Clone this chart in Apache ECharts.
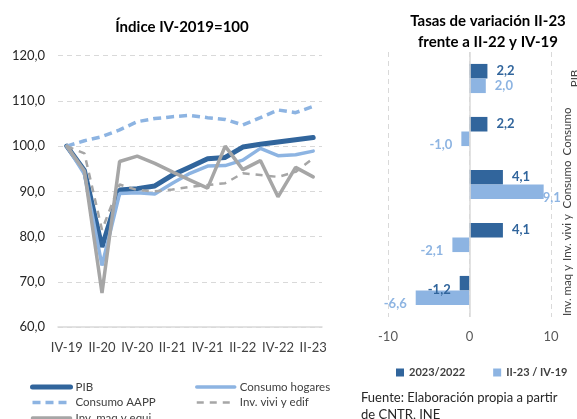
<!DOCTYPE html>
<html>
<head>
<meta charset="utf-8">
<script src="https://cdn.jsdelivr.net/npm/echarts@6/dist/echarts.min.js"></script>
<style>
  html, body { margin: 0; padding: 0; background: #fff; }
  #chart { width: 577px; height: 419px; }
</style>
</head>
<body>
<div id="chart"></div>
<script>
// indice IV-2019 = 100
const quarters = ['IV-19', 'I-20', 'II-20', 'III-20', 'IV-20', 'I-21', 'II-21', 'III-21', 'IV-21', 'I-22', 'II-22', 'III-22', 'IV-22', 'I-23', 'II-23']
const pib = [100, 94.6, 77.7, 90.3, 90.6, 91.2, 93.6, 95.4, 97.2, 97.5, 99.8, 100.4, 100.9, 101.4, 101.9]
const consumoHogares = [100, 93.8, 73.6, 89.5, 89.7, 89.4, 91.8, 94.0, 95.6, 95.7, 96.9, 99.5, 97.9, 98.1, 98.9]
const consumoAAPP = [100, 101.2, 102.1, 103.6, 105.4, 106.1, 106.5, 106.8, 106.3, 105.9, 104.7, 106.3, 108.0, 107.4, 108.8]
const invVivi = [100, 98.4, 81.5, 91.5, 90.3, 90.0, 90.4, 91.0, 91.4, 91.8, 94.0, 93.6, 93.2, 94.3, 97.3]
const invMaq = [100, 94.5, 67.5, 96.6, 97.8, 96.2, 94.3, 92.5, 90.7, 100.0, 94.8, 96.8, 88.8, 95.3, 93.2]

// tasas de variacion II-23
const componentes = ['PIB', 'Consumo hogares', 'Consumo AAPP', 'Inv. vivi y edif', 'Inv. maq y equi']
const tasa2322 = [2.2, 2.2, 4.1, 4.1, -1.2]
const tasa2319 = [2.0, -1.0, 9.1, -2.1, -6.6]

const DARK = '#31659C'
const LIGHT = '#8DB4E2'
const GRAY = '#A6A6A6'
const FONT = 'Lato'

const coma = v => v.toFixed(1).replace('.', ',')

const chart = echarts.init(document.getElementById('chart'))

const lineSerie = (name, data, color, width, type) => ({
  name: name,
  type: 'line',
  xAxisIndex: 0,
  yAxisIndex: 0,
  data: data,
  symbol: 'none',
  lineStyle: { color: color, width: width, type: type, cap: type === 'solid' ? 'round' : 'butt' },
  itemStyle: { color: color }
})

const lineLegend = (names, left) => ({
  data: names,
  orient: 'vertical',
  left: left,
  top: 376,
  height: 120,
  itemWidth: 38,
  itemHeight: 12,
  itemGap: 3.5,
  lineStyle: { width: 'inherit' },
  itemStyle: { opacity: 0 },
  textStyle: { fontFamily: FONT, fontSize: 11.5, color: '#404040' }
})

const barLabel = color => ({
  show: true,
  position: 'right',
  distance: 9,
  color: color,
  fontFamily: FONT,
  fontWeight: 'bold',
  fontSize: 13,
  formatter: p => coma(p.value)
})

// negativos a la izquierda de la barra; si se sale del area, pegado al final de la barra
const barLabelLayout = values => p => {
  if (values[p.dataIndex] < 0) return { x: p.rect.x - 9, align: 'right' }
  if (p.labelRect.x + p.labelRect.width > 551) return { x: p.rect.x + p.rect.width - 1 }
  return {}
}

chart.setOption({
  animation: false,
  textStyle: { fontFamily: FONT },

  title: [{
    text: 'Índice IV-2019=100',
    left: 177,
    top: 15,
    textAlign: 'center',
    textStyle: { fontFamily: FONT, fontSize: 15, fontWeight: 'bold', color: '#000' }
  }, {
    text: 'Tasas de variación II-23\nfrente a II-22 y IV-19',
    left: 483,
    top: 6,
    textAlign: 'center',
    textStyle: { fontFamily: FONT, fontSize: 15, fontWeight: 'bold', color: '#000', lineHeight: 21 }
  }, {
    text: 'Fuente: Elaboración propia a partir\nde CNTR, INE',
    left: 356,
    top: 384,
    textStyle: { fontFamily: FONT, fontSize: 13, fontWeight: 'normal', color: '#262626', lineHeight: 17 }
  }],

  legend: [
    lineLegend(['PIB', 'Consumo AAPP', 'Inv. maq y equi'], 25),
    lineLegend(['Consumo hogares', 'Inv. vivi y edif'], 190),
    {
      data: ['2023/2022', 'II-23 / IV-19'],
      left: 391,
      top: 362,
      width: 300,
      icon: 'rect',
      itemWidth: 8,
      itemHeight: 8,
      itemGap: 28,
      textStyle: { fontFamily: FONT, fontSize: 11, fontWeight: 'bold', color: '#404040' }
    }
  ],

  // sin outerBounds: las etiquetas de la derecha quedan cortadas como en el original
  grid: [
    { left: 58, right: 255, top: 55.7, bottom: 92, outerBoundsMode: 'none' },
    { left: 388, right: 26, top: 52, bottom: 102, outerBoundsMode: 'none' }
  ],

  xAxis: [{
    gridIndex: 0,
    type: 'category',
    data: quarters,
    boundaryGap: true,
    axisTick: { show: false },
    axisLine: { lineStyle: { color: '#D9D9D9', width: 1.5 } },
    axisLabel: { interval: 1, margin: 14, color: '#404040', fontSize: 13, fontFamily: FONT }
  }, {
    gridIndex: 1,
    type: 'value',
    min: -10,
    max: 10,
    interval: 10,
    axisLine: { show: false },
    axisTick: { show: false },
    splitLine: { lineStyle: { color: '#D9D9D9', type: [5, 4] } },
    axisLabel: { margin: 13, color: '#595959', fontSize: 13, fontFamily: FONT }
  }],

  yAxis: [{
    gridIndex: 0,
    type: 'value',
    min: 60,
    max: 120,
    interval: 10,
    axisLine: { show: false },
    axisTick: { show: false },
    splitLine: { lineStyle: { color: '#D9D9D9', width: 1.2, type: [5, 4] } },
    axisLabel: { margin: 13, color: '#262626', fontSize: 13, fontFamily: FONT, formatter: v => coma(v) }
  }, {
    gridIndex: 1,
    type: 'category',
    data: componentes,
    inverse: true,
    position: 'right',
    axisLine: { show: false },
    axisTick: { show: false },
    axisLabel: {
      interval: 0,
      hideOverlap: false,
      rotate: 90,
      margin: 24,
      verticalAlign: 'middle',
      color: '#404040',
      fontSize: 11.5,
      fontFamily: FONT,
      // parte el nombre en la ultima palabra; una sola palabra queda centrada
      formatter: v => {
        const i = v.lastIndexOf(' ')
        return i < 0 ? '{one|' + v + '}' : '{two|' + v.slice(0, i) + '}\n{two|' + v.slice(i + 1) + '}'
      },
      rich: {
        one: { lineHeight: 30, fontSize: 11.5, color: '#404040', fontFamily: FONT },
        two: { lineHeight: 15, fontSize: 11.5, color: '#404040', fontFamily: FONT }
      }
    }
  }],

  series: [
    lineSerie('PIB', pib, DARK, 5, 'solid'),
    lineSerie('Consumo hogares', consumoHogares, LIGHT, 3.5, 'solid'),
    lineSerie('Consumo AAPP', consumoAAPP, LIGHT, 3.5, [8, 5]),
    lineSerie('Inv. vivi y edif', invVivi, GRAY, 2.5, [7, 6]),
    lineSerie('Inv. maq y equi', invMaq, GRAY, 3.5, 'solid'),
    {
      name: '2023/2022',
      type: 'bar',
      xAxisIndex: 1,
      yAxisIndex: 1,
      data: tasa2322,
      barGap: '0%',
      barCategoryGap: '45%',
      itemStyle: { color: DARK },
      label: barLabel(DARK),
      labelLayout: barLabelLayout(tasa2322),
      markLine: {
        silent: true,
        symbol: 'none',
        label: { show: false },
        lineStyle: { color: '#D9D9D9', type: 'solid', width: 1.5 },
        data: [{ xAxis: 0 }]
      }
    },
    {
      name: 'II-23 / IV-19',
      type: 'bar',
      xAxisIndex: 1,
      yAxisIndex: 1,
      data: tasa2319,
      itemStyle: { color: LIGHT },
      label: barLabel(LIGHT),
      labelLayout: barLabelLayout(tasa2319)
    }
  ]
})
</script>
</body>
</html>
